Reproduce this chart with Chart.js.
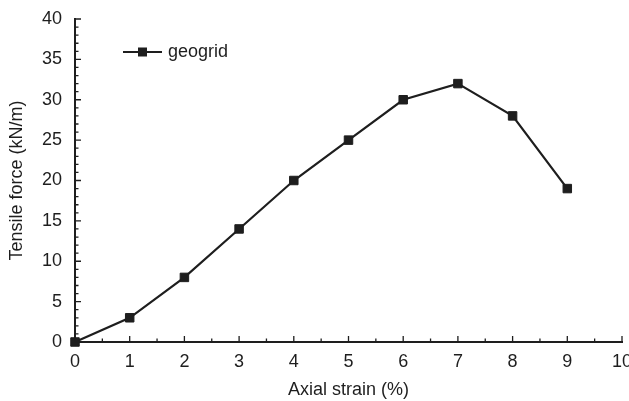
<!DOCTYPE html>
<html>
<head>
<meta charset="utf-8">
<script src="https://cdn.jsdelivr.net/npm/chart.js@4.4.0/dist/chart.umd.min.js"></script>
<style>
  html, body { margin: 0; padding: 0; background: #fff; }
  #wrap { width: 629px; height: 401px; }
</style>
</head>
<body>
<div id="wrap"><canvas id="chart" width="629" height="401"></canvas></div>
<script>
// Zugversuch: Zugkraft über axialer Dehnung
const strain = [0, 1, 2, 3, 4, 5, 6, 7, 8, 9];
const force = [0, 3, 8, 14, 20, 25, 30, 32, 28, 19];
const seriesName = 'geogrid';
const xTicks = [0, 1, 2, 3, 4, 5, 6, 7, 8, 9, 10];
const yTicks = [0, 5, 10, 15, 20, 25, 30, 35, 40];

const ink = '#1e1e1e';
const fontFamily = '"Liberation Sans", Arial, sans-serif';
const fontSize = 18;

// Tick-Striche nach innen zeichnen (Hauptstriche + Zwischenstriche)
const innerTicks = {
    id: 'innerTicks',
    afterDatasetsDraw(chart) {
        const ctx = chart.ctx;
        const x = chart.scales.x;
        const y = chart.scales.y;
        const area = chart.chartArea;
        ctx.save();
        ctx.strokeStyle = ink;
        ctx.lineWidth = 1.3;
        ctx.beginPath();
        for (let v = 0; v <= 10; v += 0.5) {
            const px = x.getPixelForValue(v);
            const len = Number.isInteger(v) ? 6 : 3.5;
            ctx.moveTo(px, area.bottom);
            ctx.lineTo(px, area.bottom - len);
        }
        for (let v = 0; v <= 40; v += 1) {
            const py = y.getPixelForValue(v);
            const len = v % 5 === 0 ? 6 : 3.5;
            ctx.moveTo(area.left, py);
            ctx.lineTo(area.left + len, py);
        }
        ctx.stroke();
        ctx.restore();
    }
};

// Legende: Linie mit Quadrat und Beschriftung
const lineLegend = {
    id: 'lineLegend',
    afterDraw(chart) {
        const ctx = chart.ctx;
        const lx = 123, ly = 52;
        ctx.save();
        ctx.strokeStyle = ink;
        ctx.lineWidth = 2.2;
        ctx.beginPath();
        ctx.moveTo(lx, ly);
        ctx.lineTo(lx + 39, ly);
        ctx.stroke();
        ctx.fillStyle = ink;
        ctx.fillRect(lx + 15, ly - 4.5, 9, 9);
        ctx.font = fontSize + 'px ' + fontFamily;
        ctx.textBaseline = 'middle';
        ctx.fillText(seriesName, lx + 45, ly);
        ctx.restore();
    }
};

const ctx = document.getElementById('chart').getContext('2d');
const chart = new Chart(ctx, {
    type: 'line',
    data: {
        datasets: [{
            label: seriesName,
            data: strain.map((s, i) => ({ x: s, y: force[i] })),
            borderColor: ink,
            backgroundColor: ink,
            borderWidth: 2.2,
            pointStyle: 'rect',
            pointRadius: 6,
            pointBorderWidth: 1,
            pointHoverRadius: 6,
            tension: 0,
            clip: false
        }]
    },
    options: {
        responsive: false,
        animation: false,
        events: [],
        layout: { padding: { left: 0, right: 6, top: 19, bottom: 0 } },
        plugins: {
            legend: { display: false },
            tooltip: { enabled: false }
        },
        scales: {
            x: {
                type: 'linear',
                min: 0,
                max: 10,
                afterFit: s => { s.height = 59; s.paddingLeft = 0; s.paddingRight = 0; },
                afterBuildTicks: s => { s.ticks = xTicks.map(v => ({ value: v })); },
                grid: { display: false, drawTicks: false },
                border: { display: true, color: ink, width: 2 },
                ticks: {
                    color: ink,
                    padding: 9,
                    font: { family: fontFamily, size: fontSize },
                    maxRotation: 0
                },
                title: {
                    display: true,
                    text: 'Axial strain (%)',
                    color: ink,
                    padding: { top: 4, bottom: 0 },
                    font: { family: fontFamily, size: fontSize }
                }
            },
            y: {
                type: 'linear',
                min: 0,
                max: 40,
                afterFit: s => { s.width = 75; s.paddingTop = 0; s.paddingBottom = 0; },
                afterBuildTicks: s => { s.ticks = yTicks.map(v => ({ value: v })); },
                grid: { display: false, drawTicks: false },
                border: { display: true, color: ink, width: 2 },
                ticks: {
                    color: ink,
                    padding: 13,
                    font: { family: fontFamily, size: fontSize }
                },
                title: {
                    display: true,
                    text: 'Tensile force (kN/m)',
                    color: ink,
                    padding: { top: 6, bottom: 4 },
                    font: { family: fontFamily, size: fontSize }
                }
            }
        }
    },
    plugins: [innerTicks, lineLegend]
});
</script>
</body>
</html>
